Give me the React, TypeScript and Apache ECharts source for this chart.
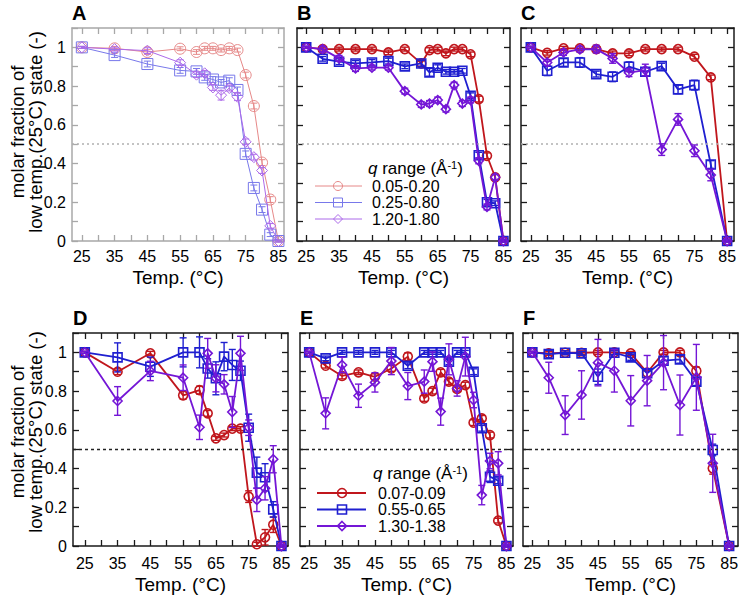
import React, { useEffect, useRef } from 'react';
import * as echarts from 'echarts';

// ---------- data ----------
const X_TICKS = [25, 30, 35, 40, 45, 50, 55, 60, 65, 70, 75, 80, 85];
const X_LABELS = [25, 35, 45, 55, 65, 75, 85];
const Y_LABELS = [0, 0.2, 0.4, 0.6, 0.8, 1];

const NAMES_ABC = ['0.05-0.20', '0.25-0.80', '1.20-1.80'];
const NAMES_DEF = ['0.07-0.09', '0.55-0.65', '1.30-1.38'];

// Panel A
const T_A = [25, 35, 45, 55, 60, 62.5, 65, 67.5, 70, 72.5, 75, 77.5, 80, 82.5, 85];
const A_RED = [1, 0.995, 0.976, 0.993, 0.976, 0.995, 0.995, 0.986, 0.995, 0.986, 0.857, 0.697, 0.405, 0.214, 0];
const A_RED_ERR = [0.005, 0.01, 0.012, 0.01, 0.012, 0.01, 0.01, 0.01, 0.01, 0.01, 0.015, 0.015, 0.015, 0.015, 0.005];
const A_BLUE = [1, 0.96, 0.914, 0.881, 0.876, 0.845, 0.834, 0.819, 0.828, 0.78, 0.45, 0.274, 0.162, 0.033, 0];
const A_BLUE_ERR = [0.005, 0.012, 0.015, 0.015, 0.015, 0.015, 0.015, 0.015, 0.015, 0.015, 0.015, 0.015, 0.015, 0.01, 0.005];
const A_PURPLE = [1, 0.991, 0.983, 0.921, 0.859, 0.866, 0.793, 0.753, 0.79, 0.745, 0.512, 0.433, 0.364, 0.078, 0];
const A_PURPLE_ERR = [0.005, 0.01, 0.015, 0.015, 0.015, 0.015, 0.015, 0.025, 0.015, 0.02, 0.015, 0.015, 0.015, 0.012, 0.005];

// Panel B
const T_B = [25, 30, 35, 40, 45, 50, 55, 60, 62.5, 65, 67.5, 70, 72.5, 75, 77.5, 80, 82.5, 85];
const B_RED = [1, 0.991, 0.991, 0.991, 0.991, 0.974, 0.991, 0.917, 0.986, 0.991, 0.969, 0.991, 0.991, 0.964, 0.733, 0.44, 0.329, 0];
const B_RED_ERR = [0.005, 0.01, 0.01, 0.01, 0.01, 0.012, 0.01, 0.015, 0.012, 0.01, 0.012, 0.01, 0.01, 0.012, 0.015, 0.015, 0.015, 0.005];
const B_BLUE = [1, 0.941, 0.926, 0.917, 0.922, 0.929, 0.902, 0.917, 0.871, 0.895, 0.874, 0.874, 0.879, 0.75, 0.443, 0.2, 0.195, 0];
const B_BLUE_ERR = [0.005, 0.012, 0.015, 0.015, 0.015, 0.015, 0.012, 0.015, 0.02, 0.015, 0.012, 0.012, 0.012, 0.015, 0.015, 0.015, 0.012, 0.005];
const B_PURPLE = [1, 0.991, 0.943, 0.891, 0.895, 0.895, 0.774, 0.705, 0.71, 0.728, 0.681, 0.805, 0.71, 0.728, 0.414, 0.176, 0.329, 0];
const B_PURPLE_ERR = [0.005, 0.015, 0.015, 0.015, 0.012, 0.012, 0.015, 0.015, 0.015, 0.015, 0.015, 0.015, 0.015, 0.015, 0.015, 0.015, 0.015, 0.005];

// Panel C
const T_C = [25, 30, 35, 40, 45, 50, 55, 60, 65, 70, 75, 80, 85];
const C_RED = [1, 0.972, 0.995, 0.995, 0.991, 0.969, 0.969, 0.991, 0.991, 0.991, 0.952, 0.845, 0];
const C_RED_ERR = [0.005, 0.012, 0.01, 0.01, 0.01, 0.012, 0.012, 0.01, 0.01, 0.01, 0.012, 0.012, 0.005];
const C_BLUE = [1, 0.879, 0.922, 0.922, 0.862, 0.848, 0.9, 0.874, 0.903, 0.783, 0.805, 0.395, 0];
const C_BLUE_ERR = [0.005, 0.025, 0.02, 0.025, 0.015, 0.025, 0.025, 0.02, 0.015, 0.022, 0.025, 0.02, 0.005];
const C_PURPLE = [1, 0.922, 0.974, 0.99, 0.991, 0.943, 0.869, 0.883, 0.472, 0.628, 0.466, 0.341, 0];
const C_PURPLE_ERR = [0.005, 0.015, 0.015, 0.015, 0.02, 0.025, 0.02, 0.03, 0.03, 0.03, 0.03, 0.03, 0.005];

// Panel D
const T_D = [25, 35, 45, 55, 60, 62.5, 65, 67.5, 70, 72.5, 75, 77.5, 80, 82.5, 85];
const D_RED = [1, 0.9, 0.995, 0.778, 0.805, 0.685, 0.556, 0.573, 0.606, 0.606, 0.255, 0.009, 0.045, 0.11, 0];
const D_RED_ERR = [0.005, 0.015, 0.01, 0.02, 0.02, 0.015, 0.01, 0.01, 0.01, 0.01, 0.03, 0.01, 0.04, 0.04, 0.005];
const D_BLUE = [1, 0.974, 0.926, 1.0, 1.0, 0.917, 0.866, 0.978, 0.935, 0.905, 0.611, 0.379, 0.355, 0.189, 0];
const D_BLUE_ERR = [0.005, 0.075, 0.05, 0.075, 0.08, 0.05, 0.085, 0.073, 0.08, 0.05, 0.07, 0.08, 0.07, 0.04, 0.005];
const D_PURPLE = [1, 0.749, 0.904, 0.869, 0.613, 0.995, 0.866, 0.835, 0.692, 0.995, 0.611, 0.238, 0.298, 0.448, 0];
const D_PURPLE_ERR = [0.005, 0.074, 0.05, 0.066, 0.063, 0.077, 0.07, 0.05, 0.08, 0.088, 0.04, 0.06, 0.06, 0.07, 0.005];

// Panel E
const T_E = [25, 30, 35, 40, 45, 50, 55, 60, 62.5, 65, 67.5, 70, 72.5, 75, 77.5, 80, 82.5, 85];
const E_RED = [1, 0.931, 0.878, 0.897, 0.874, 0.917, 0.978, 0.762, 0.8, 0.897, 0.849, 0.811, 0.831, 0.637, 0.659, 0.573, 0.131, 0];
const E_RED_ERR = [0.005, 0.012, 0.015, 0.012, 0.015, 0.015, 0.02, 0.015, 0.015, 0.015, 0.015, 0.015, 0.015, 0.015, 0.015, 0.015, 0.012, 0.005];
const E_BLUE = [1, 0.969, 1, 1, 1, 1, 0.931, 1, 1, 1, 0.952, 1, 1, 0.9, 0.608, 0.358, 0.337, 0];
const E_BLUE_ERR = [0.005, 0.012, 0.01, 0.01, 0.01, 0.01, 0.015, 0.01, 0.01, 0.01, 0.015, 0.01, 0.01, 0.015, 0.015, 0.03, 0.015, 0.005];
const E_PURPLE = [1, 0.685, 0.935, 0.776, 0.845, 0.955, 0.826, 0.849, 0.952, 0.694, 0.964, 0.814, 0.978, 0.754, 0.263, 0.439, 0.427, 0];
const E_PURPLE_ERR = [0.005, 0.08, 0.04, 0.06, 0.05, 0.07, 0.07, 0.06, 0.05, 0.07, 0.08, 0.04, 0.1, 0.04, 0.05, 0.04, 0.06, 0.005];

// Panel F
const T_F = [25, 30, 35, 40, 45, 50, 55, 60, 65, 70, 75, 80, 85];
const F_RED = [1, 0.995, 0.998, 0.998, 1, 1, 0.995, 0.895, 1, 1, 0.904, 0.401, 0];
const F_RED_ERR = [0.005, 0.01, 0.01, 0.01, 0.01, 0.01, 0.01, 0.02, 0.01, 0.01, 0.02, 0.03, 0.005];
const F_BLUE = [1, 0.991, 0.998, 0.995, 0.874, 0.998, 0.974, 0.892, 0.957, 0.964, 0.849, 0.496, 0];
const F_BLUE_ERR = [0.005, 0.02, 0.01, 0.01, 0.04, 0.01, 0.015, 0.02, 0.02, 0.02, 0.02, 0.03, 0.005];
const F_PURPLE = [1, 0.869, 0.676, 0.78, 0.947, 0.905, 0.75, 0.854, 0.947, 0.728, 0.871, 0.427, 0];
const F_PURPLE_ERR = [0.005, 0.08, 0.1, 0.125, 0.12, 0.11, 0.13, 0.13, 0.14, 0.155, 0.17, 0.15, 0.005];

// ---------- styling / layout ----------
const FONT = '"Liberation Sans", Arial, Helvetica, sans-serif';
const FULL = ['#c0161c', '#1f1fd0', '#7416d6'];
const FADED = ['#e68888', '#7878ea', '#ac6aea'];
const SYMBOLS = ['circle', 'rect', 'diamond'];

type Panel = {
  letter: string;
  grid: { left: number; top: number; width: number; height: number };
  xMin: number;
  xMax: number;
  faded: boolean;
  yLabels: boolean;
  names: string[];
  T: number[];
  vals: number[][];
  errs: number[][];
  bottom: boolean;
};

const PANELS: Panel[] = [
  { letter: 'A', grid: { left: 72, top: 28, width: 212, height: 213 }, xMin: 22, xMax: 86.7, faded: true, yLabels: true, names: NAMES_ABC, T: T_A, vals: [A_RED, A_BLUE, A_PURPLE], errs: [A_RED_ERR, A_BLUE_ERR, A_PURPLE_ERR], bottom: false },
  { letter: 'B', grid: { left: 297, top: 28, width: 213, height: 213 }, xMin: 22.2, xMax: 87, faded: false, yLabels: false, names: NAMES_ABC, T: T_B, vals: [B_RED, B_BLUE, B_PURPLE], errs: [B_RED_ERR, B_BLUE_ERR, B_PURPLE_ERR], bottom: false },
  { letter: 'C', grid: { left: 521, top: 28, width: 213, height: 213 }, xMin: 22, xMax: 87.1, faded: false, yLabels: false, names: NAMES_ABC, T: T_C, vals: [C_RED, C_BLUE, C_PURPLE], errs: [C_RED_ERR, C_BLUE_ERR, C_PURPLE_ERR], bottom: false },
  { letter: 'D', grid: { left: 73, top: 333, width: 215, height: 213 }, xMin: 21.4, xMax: 87, faded: false, yLabels: true, names: NAMES_DEF, T: T_D, vals: [D_RED, D_BLUE, D_PURPLE], errs: [D_RED_ERR, D_BLUE_ERR, D_PURPLE_ERR], bottom: true },
  { letter: 'E', grid: { left: 300, top: 333, width: 213, height: 213 }, xMin: 22.2, xMax: 87, faded: false, yLabels: false, names: NAMES_DEF, T: T_E, vals: [E_RED, E_BLUE, E_PURPLE], errs: [E_RED_ERR, E_BLUE_ERR, E_PURPLE_ERR], bottom: true },
  { letter: 'F', grid: { left: 523, top: 333, width: 215, height: 213 }, xMin: 22.15, xMax: 87.7, faded: false, yLabels: false, names: NAMES_DEF, T: T_F, vals: [F_RED, F_BLUE, F_PURPLE], errs: [F_RED_ERR, F_BLUE_ERR, F_PURPLE_ERR], bottom: true },
];

function buildOption() {
  const grid: any[] = [];
  const xAxis: any[] = [];
  const yAxis: any[] = [];
  const series: any[] = [];
  const graphic: any[] = [];

  PANELS.forEach((p, i) => {
    grid.push({ ...p.grid, containLabel: false });
    const axisColor = p.faded ? '#a8a8a8' : '#1a1a1a';
    const axisLine = { show: true, onZero: false, lineStyle: { color: axisColor, width: 1.5 } };
    const tick = { show: true, inside: true, length: 6, lineStyle: { color: axisColor, width: 1.3 } };
    xAxis.push({
      gridIndex: i, type: 'value', min: p.xMin, max: p.xMax, position: 'bottom',
      axisLine, axisTick: { ...tick, customValues: X_TICKS },
      axisLabel: { customValues: X_LABELS, fontSize: 16, color: '#000', fontFamily: FONT, margin: p.bottom ? 9 : 7 },
      splitLine: { show: false },
      name: 'Temp. (°C)', nameLocation: 'middle', nameGap: p.bottom ? 29 : 27,
      nameTextStyle: { fontSize: 19, color: '#000', fontFamily: FONT },
    });
    xAxis.push({
      gridIndex: i, type: 'value', min: p.xMin, max: p.xMax, position: 'top',
      axisLine, axisTick: { ...tick, customValues: X_TICKS },
      axisLabel: { show: false }, splitLine: { show: false },
    });
    yAxis.push({
      gridIndex: i, type: 'value', min: 0, max: 1.1, interval: 0.1, position: 'left',
      axisLine, axisTick: tick,
      axisLabel: p.yLabels
        ? { customValues: Y_LABELS, fontSize: 16, color: '#000', fontFamily: FONT, margin: 6, formatter: (v: number) => String(v) }
        : { show: false },
      splitLine: { show: false },
    });
    yAxis.push({
      gridIndex: i, type: 'value', min: 0, max: 1.1, interval: 0.1, position: 'right',
      axisLine, axisTick: tick, axisLabel: { show: false }, splitLine: { show: false },
    });

    const colors = p.faded ? FADED : FULL;
    const lw = p.faded ? 1 : 1.8;
    const bw = p.faded ? 1 : 1.6;
    const size = p.faded ? 11 : 9;
    p.vals.forEach((vals, q) => {
      const color = colors[q];
      series.push({
        type: 'line', name: p.names[q], xAxisIndex: 2 * i, yAxisIndex: 2 * i,
        data: p.T.map((t, k) => [t, vals[k]]),
        symbol: SYMBOLS[q], symbolSize: size, showSymbol: true,
        lineStyle: { color, width: lw },
        itemStyle: { color: 'rgba(0,0,0,0)', borderColor: color, borderWidth: bw },
        z: 3 + q, silent: true,
        markLine: q === 0 ? {
          silent: true, symbol: ['none', 'none'], label: { show: false },
          lineStyle: p.bottom
            ? { color: '#222', type: [3, 3], width: 1.3 }
            : { color: '#b0b0b0', type: [2, 3], width: 1.5 },
          data: [{ yAxis: 0.5 }],
        } : undefined,
      });
      const errs = p.errs[q];
      series.push({
        type: 'custom', xAxisIndex: 2 * i, yAxisIndex: 2 * i, silent: true, z: 3 + q,
        data: p.T.map((t, k) => [t, vals[k], errs[k]]),
        encode: { x: 0, y: 1 },
        renderItem: (_params: any, api: any) => {
          const x = api.value(0), y = api.value(1), e = api.value(2);
          const a = api.coord([x, y + e]);
          const b = api.coord([x, y - e]);
          const w = 3.5;
          const style = { stroke: color, lineWidth: p.faded ? 1 : 1.4 };
          return {
            type: 'group',
            children: [
              { type: 'line', shape: { x1: a[0], y1: a[1], x2: b[0], y2: b[1] }, style },
              { type: 'line', shape: { x1: a[0] - w, y1: a[1], x2: a[0] + w, y2: a[1] }, style },
              { type: 'line', shape: { x1: b[0] - w, y1: b[1], x2: b[0] + w, y2: b[1] }, style },
            ],
          };
        },
      });
    });

    graphic.push({
      type: 'text', x: p.grid.left, y: p.grid.top - 15,
      style: { text: p.letter, font: `bold 20px ${FONT}`, fill: '#000', verticalAlign: 'middle', align: 'left' },
    });
  });

  // y-axis titles
  [132, 432].forEach((cy) => {
    graphic.push({
      type: 'text', x: 26, y: cy, rotation: Math.PI / 2,
      style: {
        text: 'molar fraction of\nlow temp.(25°C) state (-)',
        font: `18.5px ${FONT}`, fill: '#000', align: 'center', verticalAlign: 'middle', lineHeight: 18,
      },
    });
  });

  // legends
  const legend = (names: string[], colors: string[], faded: boolean, titleX: number, titleY: number, rows: number[], lx1: number, lx2: number, mx: number, tx: number) => {
    graphic.push({
      type: 'text', x: titleX, y: titleY,
      style: {
        text: '{i|q} range (Å{s|-1})',
        font: `17px ${FONT}`, fill: '#000', verticalAlign: 'middle', align: 'left', lineHeight: 17,
        rich: {
          i: { fontStyle: 'italic', fontSize: 17, fontFamily: FONT, lineHeight: 17 },
          s: { fontSize: 11, fontFamily: FONT, verticalAlign: 'top', lineHeight: 17, padding: [0, 0, 8, 0] },
        },
      },
    });
    rows.forEach((ry, q) => {
      const c = colors[q];
      const lw = faded ? 1 : 1.8;
      graphic.push({ type: 'line', shape: { x1: lx1, y1: ry, x2: lx2, y2: ry }, style: { stroke: c, lineWidth: lw } });
      const st = { fill: 'none', stroke: c, lineWidth: faded ? 1 : 1.6 };
      if (q === 0) graphic.push({ type: 'circle', shape: { cx: mx, cy: ry, r: 4.5 }, style: st });
      if (q === 1) graphic.push({ type: 'rect', shape: { x: mx - 4.5, y: ry - 4.5, width: 9, height: 9 }, style: st });
      if (q === 2) graphic.push({ type: 'polygon', shape: { points: [[mx, ry - 4.5], [mx + 4.5, ry], [mx, ry + 4.5], [mx - 4.5, ry]] }, style: st });
      graphic.push({
        type: 'text', x: tx, y: ry,
        style: { text: names[q], font: `16px ${FONT}`, fill: '#000', verticalAlign: 'middle', align: 'left', lineHeight: 14 },
      });
    });
  };
  legend(NAMES_ABC, FADED, true, 368, 168, [186, 202.5, 219], 315, 362, 338, 372);
  legend(NAMES_DEF, FULL, false, 373, 473, [493, 509.5, 526], 317, 366, 342, 378);

  return {
    animation: false,
    backgroundColor: '#fff',
    textStyle: { fontFamily: FONT },
    grid, xAxis, yAxis, series, graphic,
  };
}

export default function App() {
  const ref = useRef<HTMLDivElement>(null);
  useEffect(() => {
    const chart = echarts.init(ref.current!, null, { renderer: 'svg' });
    chart.setOption(buildOption() as any);
    return () => chart.dispose();
  }, []);
  return <div ref={ref} style={{ position: 'fixed', left: 0, top: 0, width: 746, height: 595 }} />;
}
